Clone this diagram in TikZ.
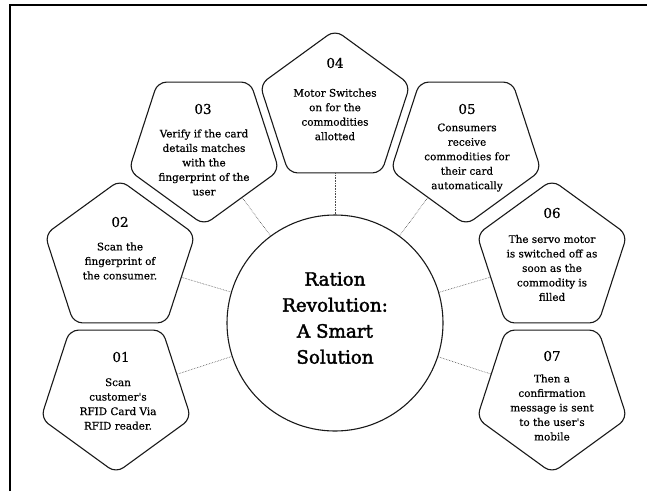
\documentclass[tikz,border=0pt]{standalone}
\usepackage{fontspec}
\setmainfont{DejaVu Serif}
\newfontfamily\heavyfont[FakeBold=0.45]{DejaVu Serif}
\newfontfamily\titlefont[FakeBold=2]{DejaVu Serif}
\usetikzlibrary{shapes.geometric}
\begin{document}
\begin{tikzpicture}[x=1pt,y=-1pt,
  pent/.style={regular polygon, regular polygon sides=5, minimum size=158pt, inner sep=0pt, draw=black!90, line width=1.1pt, rounded corners=9pt},
  pentdown/.style={pent, shape border rotate=180},
  hub/.style={circle, minimum size=216pt, inner sep=0pt, draw=black!90, line width=1.1pt},
  conn/.style={draw=black!70, line width=0.6pt, densely dotted},
  num/.style={font=\heavyfont\fontsize{13.5}{16}\selectfont, inner sep=0pt},
  body/.style={font=\heavyfont\fontsize{10.4}{14.5}\selectfont, align=center, inner sep=0pt},
  titletext/.style={font=\titlefont\fontsize{18.3}{26}\selectfont, align=center, inner sep=0pt},
  frame/.style={line width=2pt, black}]
\useasboundingbox (0,0) rectangle (647,491);
\fill[white] (0,0) rectangle (647,491);
\draw[frame] (9.5,491) -- (9.5,5) -- (647,5);

\node[hub] (c) at (335,323) {};
\node[pentdown] (p1) at (116,394) {};
\node[pent] (p2) at (120,259) {};
\node[pentdown] (p3) at (204,146) {};
\node[pent] (p4) at (335,109) {};
\node[pentdown] (p5) at (466,146) {};
\node[pent] (p6) at (552,259) {};
\node[pentdown] (p7) at (552,394) {};

\foreach \p in {p1,p2,p3,p4,p5,p6,p7} \draw[conn] (\p) -- (c);

\node[titletext] (t) at (335,318) {Ration\\Revolution:\\A Smart\\Solution};

\node[num] (n1) at (121,357) {01};
\node[body] (b1) at (118,404) {Scan\\customer's\\RFID Card Via\\RFID reader.};
\node[num] (n2) at (120,222) {02};
\node[body] (b2) at (120,261) {Scan the\\fingerprint of\\the consumer.};
\node[num] (n3) at (203,109) {03};
\node[body] (b3) at (204,162.5) {Verify if the card\\details matches\\with the\\fingerprint of the\\user};
\node[num] (n4) at (335,63) {04};
\node[body] (b4) at (335,114.5) {Motor Switches\\on for the\\commodities\\allotted};
\node[num] (n5) at (467,109) {05};
\node[body] (b5) at (467,157.5) {Consumers\\receive\\commodities for\\their card\\automatically};
\node[num] (n6) at (552,213) {06};
\node[body] (b6) at (552,268) {The servo motor\\is switched off as\\soon as the\\commodity is\\filled};
\node[num] (n7) at (552,356) {07};
\node[body] (b7) at (552,407.5) {Then a\\confirmation\\message is sent\\to the user's\\mobile};
\end{tikzpicture}
\end{document}
